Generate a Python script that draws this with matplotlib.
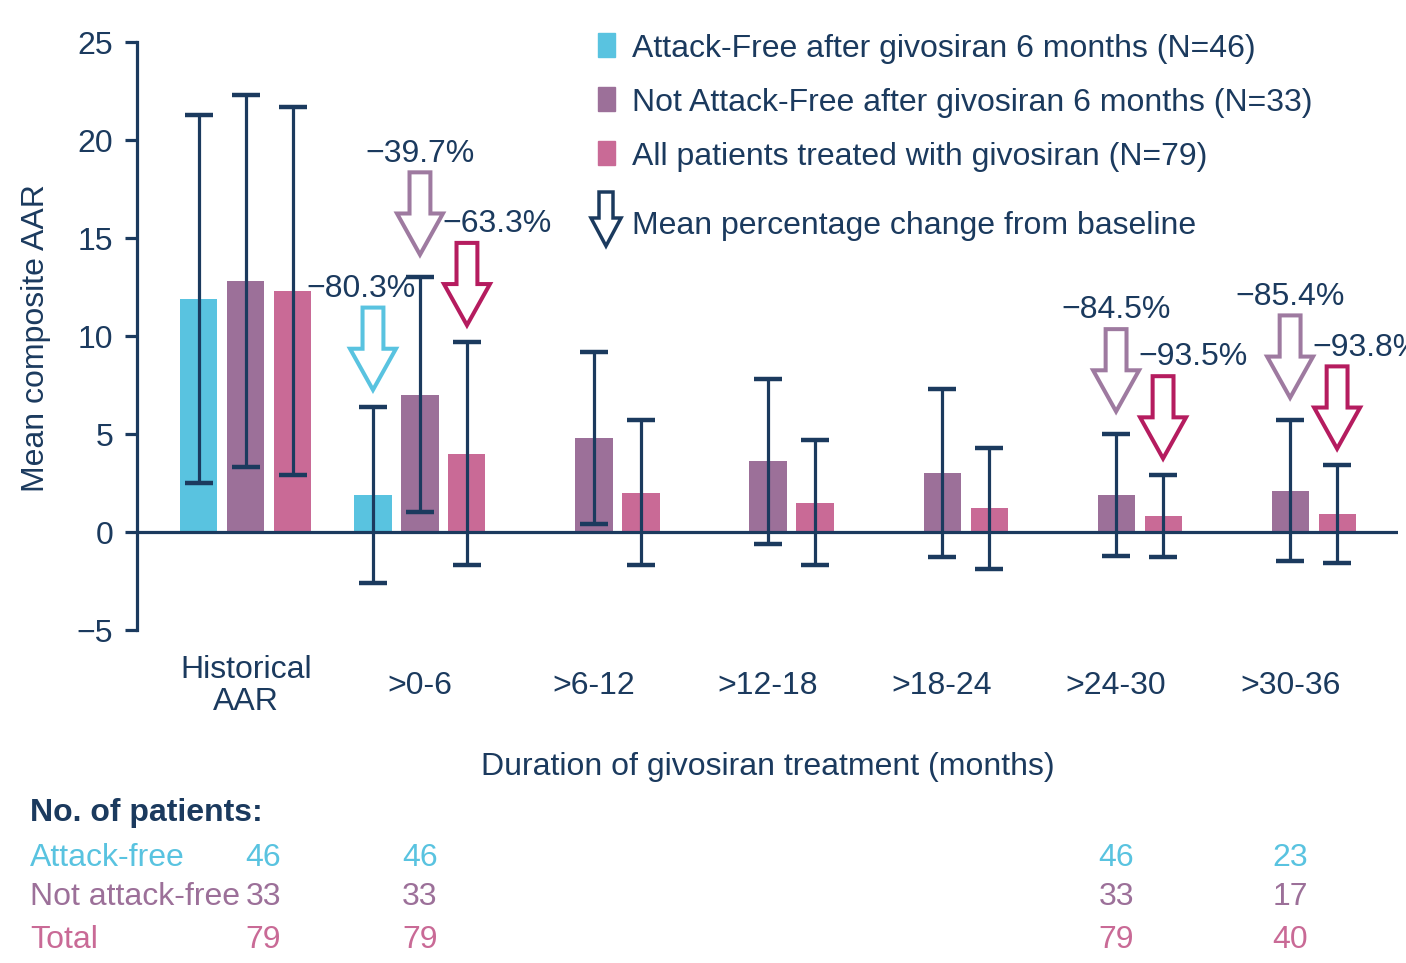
import matplotlib
matplotlib.use("Agg")
import matplotlib.pyplot as plt
import matplotlib.transforms as mtransforms
from matplotlib.patches import Polygon, Rectangle
import numpy as np

plt.rcParams['font.family'] = ['Liberation Sans', 'DejaVu Sans']

# ---- data ----
groups = ['Historical\nAAR', '>0-6', '>6-12', '>12-18', '>18-24', '>24-30', '>30-36']

af_idx = [0, 1]
af_mean = [11.9, 1.9]
af_sd = [9.4, 4.5]

naf_idx = [0, 1, 2, 3, 4, 5, 6]
naf_mean = [12.8, 7.0, 4.8, 3.6, 3.0, 1.9, 2.1]
naf_sd = [9.5, 6.0, 4.4, 4.2, 4.3, 3.1, 3.6]

all_idx = [0, 1, 2, 3, 4, 5, 6]
all_mean = [12.3, 4.0, 2.0, 1.5, 1.2, 0.8, 0.9]
all_sd = [9.4, 5.7, 3.7, 3.2, 3.1, 2.1, 2.5]

pct_af_idx = [1]
pct_af = [-80.3]
pct_naf_idx = [1, 5, 6]
pct_naf = [-39.7, -84.5, -85.4]
pct_all_idx = [1, 5, 6]
pct_all = [-63.3, -93.5, -93.8]

table_cols = [0, 1, 5, 6]
n_af = [46, 46, 46, 23]
n_naf = [33, 33, 33, 17]
n_all = [79, 79, 79, 40]

legend_labels = ['Attack-Free after givosiran 6 months (N=46)',
                 'Not Attack-Free after givosiran 6 months (N=33)',
                 'All patients treated with givosiran (N=79)']

# ---- style ----
NAVY = '#1B3A5E'
CYAN = '#59C3E0'
PURPLE = '#9C7099'
PINK = '#C96A96'
ARROW_PINK = '#B51C5F'
ARROW_PURPLE = '#9E7AA0'
FS = 23

W, H = 1406, 963
fig = plt.figure(figsize=(W / 100, H / 100), dpi=100)


def fx(px):
    return px / W


def fy(py):
    return 1 - py / H


ax = fig.add_axes([fx(137), fy(630), fx(1398) - fx(137), fy(42) - fy(630)])
ax.set_xlim(-0.626, 6.62)
ax.set_ylim(-5, 25)

off = 0.27
bw = 0.213
err_kw = dict(fmt='none', ecolor=NAVY, elinewidth=2.3, capsize=10, capthick=3.2, zorder=3)

series = [
    (af_idx, af_mean, af_sd, CYAN, -off),
    (naf_idx, naf_mean, naf_sd, PURPLE, 0.0),
    (all_idx, all_mean, all_sd, PINK, off),
]
for idx, mean, sd, col, dx in series:
    xs = np.array(idx) + dx
    ax.bar(xs, mean, width=bw, color=col, zorder=2)
    ax.errorbar(xs, mean, yerr=sd, **err_kw)

ax.axhline(0, color=NAVY, lw=2.3, zorder=2.5)

for s in ['top', 'right', 'bottom']:
    ax.spines[s].set_visible(False)
ax.spines['left'].set_color(NAVY)
ax.spines['left'].set_linewidth(2.3)
ax.set_yticks([-5, 0, 5, 10, 15, 20, 25])
ax.tick_params(axis='y', length=9, width=2.3, color=NAVY, labelcolor=NAVY,
               labelsize=FS, pad=8)
ax.set_xticks([])

# category labels under the plot
blend = mtransforms.blended_transform_factory(ax.transData, fig.transFigure)
for i, g in enumerate(groups):
    ax.text(i, fy(686), g, transform=blend, ha='center', va='center',
            fontsize=FS, color=NAVY, linespacing=1.12)


# ---- hollow arrows for percentage change ----
def hollow_arrow(x, tip, color):
    length, head = 4.2, 2.1
    sw, hw = 0.06, 0.132
    top = tip + length
    neck = tip + head
    pts = [(x - sw, top), (x + sw, top), (x + sw, neck), (x + hw, neck),
           (x, tip), (x - hw, neck), (x - sw, neck)]
    ax.add_patch(Polygon(pts, closed=True, facecolor='white', edgecolor=color,
                         lw=2.9, joinstyle='miter', zorder=4, clip_on=False))
    return top


def pct_text(v):
    return f'{v:.1f}%'.replace('-', '\u2212')


for i, v in zip(pct_af_idx, pct_af):
    k = af_idx.index(i)
    x = i - off
    top = hollow_arrow(x, af_mean[k] + af_sd[k] + 0.85, CYAN)
    ax.text(x - 0.07, top + 0.55, pct_text(v), ha='center', va='baseline',
            fontsize=FS, color=NAVY, zorder=5)

for i, v in zip(pct_naf_idx, pct_naf):
    k = naf_idx.index(i)
    x = i
    top = hollow_arrow(x, naf_mean[k] + naf_sd[k] + 1.15, ARROW_PURPLE)
    ax.text(x, top + 0.55, pct_text(v), ha='center', va='baseline',
            fontsize=FS, color=NAVY, zorder=5)

for i, v in zip(pct_all_idx, pct_all):
    k = all_idx.index(i)
    x = i + off
    top = hollow_arrow(x, all_mean[k] + all_sd[k] + 0.85, ARROW_PINK)
    ax.text(x - 0.14, top + 0.55, pct_text(v), ha='left', va='baseline',
            fontsize=FS, color=NAVY, zorder=5, clip_on=False)

# ---- legend drawn by hand ----
for row, (lab, col) in enumerate(zip(legend_labels, [CYAN, PURPLE, PINK])):
    yc = 45 + 54 * row
    fig.add_artist(Rectangle((fx(598), fy(yc + 12)), 17 / W, 24 / H,
                             color=col, transform=fig.transFigure))
    fig.text(fx(632), fy(yc + 12), lab, ha='left', va='baseline',
             fontsize=FS, color=NAVY)

lx, ltop, ltip = 606, 192, 246
lpts = [(lx - 7, ltop), (lx + 7, ltop), (lx + 7, ltop + 26), (lx + 15, ltop + 26),
        (lx, ltip), (lx - 15, ltop + 26), (lx - 7, ltop + 26)]
fig.add_artist(Polygon([(fx(a), fy(b)) for a, b in lpts], closed=True,
                       facecolor='white', edgecolor=NAVY, lw=2.5,
                       joinstyle='miter', transform=fig.transFigure))
fig.text(fx(632), fy(234), 'Mean percentage change from baseline',
         ha='left', va='baseline', fontsize=FS, color=NAVY)

# ---- axis titles ----
fig.text(fx(36), fy(338), 'Mean composite AAR', rotation=90, ha='center',
         va='center', fontsize=23, color=NAVY)
fig.text(fx(768), fy(767), 'Duration of givosiran treatment (months)',
         ha='center', va='center', fontsize=FS, color=NAVY)

# ---- number of patients table ----
fig.text(fx(30), fy(813), 'No. of patients:', ha='left', va='center',
         fontsize=FS, fontweight='bold', color=NAVY)
rows = [('Attack-free', n_af, CYAN, 858),
        ('Not attack-free', n_naf, PURPLE, 897),
        ('Total', n_all, PINK, 940)]
for lab, vals, col, yc in rows:
    fig.text(fx(30), fy(yc), lab, ha='left', va='center', fontsize=FS, color=col)
    for j, (c, n) in enumerate(zip(table_cols, vals)):
        xc = c + (0.1 if j == 0 else 0.0)
        ax.text(xc, fy(yc), str(n), transform=blend, ha='center', va='center',
                fontsize=FS, color=col)

fig.savefig('out.png', dpi=100)
